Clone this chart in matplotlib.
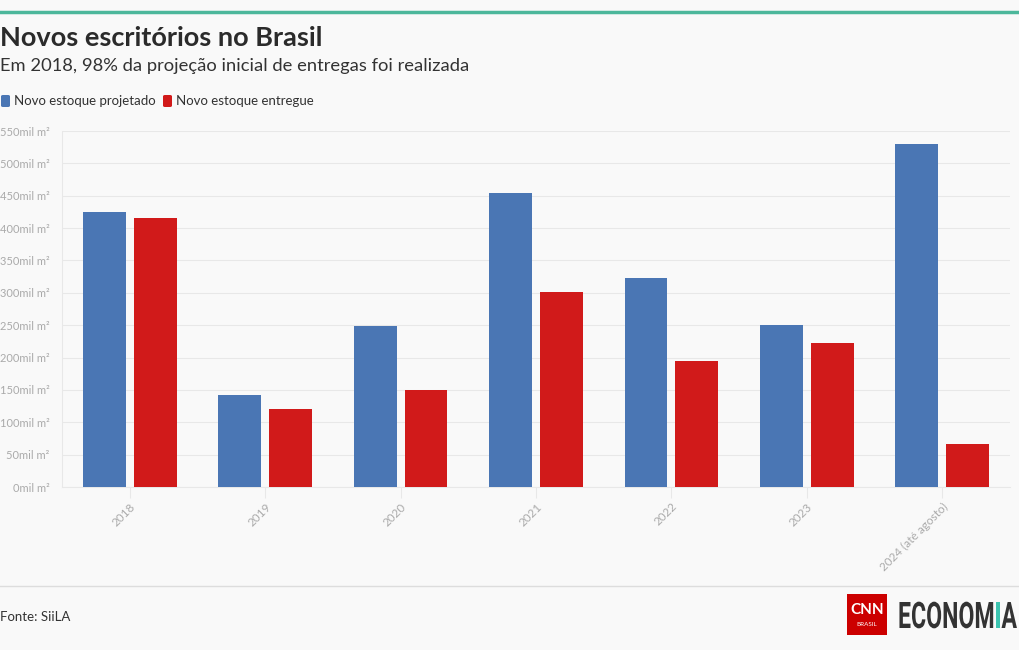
import numpy as np
import matplotlib
matplotlib.use('Agg')
from matplotlib import pyplot as plt
from matplotlib.patches import FancyBboxPatch, Rectangle, PathPatch
from matplotlib.lines import Line2D
from matplotlib.textpath import TextPath, text_to_path
from matplotlib.font_manager import FontProperties
from matplotlib.transforms import Affine2D

plt.rcParams['font.family'] = ['Lato', 'DejaVu Sans']

# Data (mil m²)
anos = ['2018', '2019', '2020', '2021', '2022', '2023', '2024 (até agosto)']
projetado = [425, 142, 249, 454, 323, 250, 530]
entregue = [416, 120, 150, 301, 195, 222, 66]
yticks = list(range(0, 551, 50))

BLUE = '#4a76b4'
RED = '#d11a1a'
BG = '#f9f9f9'
GRID = '#e8e8e8'
TICK = '#aaaaaa'

W, H = 1020, 650
fig = plt.figure(figsize=(10.2, 6.5), dpi=100, facecolor=BG)

# top teal rule
fig.add_artist(Line2D([0, 1], [1 - 12/H, 1 - 12/H], color='#4cb79b', lw=2.5))

# titles
fig.text(0.0, 1 - 38/H, 'Novos escritórios no Brasil', fontsize=19.5, fontweight='bold',
         color='#2b2b2b', va='center', ha='left')
fig.text(0.0, 1 - 66/H, 'Em 2018, 98% da projeção inicial de entregas foi realizada',
         fontsize=13.2, color='#333333', va='center', ha='left')

# legend
ly = 1 - 101/H
fig.add_artist(FancyBboxPatch((1/W, ly - 6/H), 9/W, 12/H,
                              boxstyle='round,pad=0,rounding_size=0.002',
                              fc=BLUE, ec='none', transform=fig.transFigure))
fig.text(14/W, ly, 'Novo estoque projetado', fontsize=9.5, color='#333333', va='center')
fig.add_artist(FancyBboxPatch((163/W, ly - 6/H), 9/W, 12/H,
                              boxstyle='round,pad=0,rounding_size=0.002',
                              fc=RED, ec='none', transform=fig.transFigure))
fig.text(176/W, ly, 'Novo estoque entregue', fontsize=9.5, color='#333333', va='center')

ax = fig.add_axes([62/W, 1 - 487/H, 948/W, 356/H])
ax.set_facecolor(BG)

x = np.arange(len(anos))
w = 0.317
off = 0.188
ax.bar(x - off, projetado, width=w, color=BLUE, zorder=3)
ax.bar(x + off, entregue, width=w, color=RED, zorder=3)

ax.set_xlim(-0.5, len(anos) - 0.5)
ax.set_ylim(0, 550)
ax.set_yticks(yticks)
ax.set_yticklabels([f'{v}mil m²' for v in yticks], fontsize=8, color=TICK)
ax.grid(axis='y', color=GRID, lw=0.8, zorder=0)
ax.tick_params(axis='y', length=0, pad=9)

ax.set_xticks(x)
ax.set_xticklabels(anos, rotation=45, ha='right', va='top', rotation_mode='anchor',
                   fontsize=8.5, color=TICK)
ax.tick_params(axis='x', length=8, color=GRID, pad=2)

for s in ['top', 'right']:
    ax.spines[s].set_visible(False)
ax.spines['left'].set_color(GRID)
ax.spines['bottom'].set_color(GRID)

# footer
fig.add_artist(Line2D([0, 1], [1 - 586/H, 1 - 586/H], color='#dddddd', lw=1))
fig.text(0.0, 1 - 617/H, 'Fonte: SiiLA', fontsize=9.5, color='#333333', va='center')

# logo: CNN box
fig.add_artist(Rectangle((847/W, 1 - 635/H), 40/W, 41/H, fc='#cc0000', ec='none',
                         transform=fig.transFigure))
fig.text(867/W, 1 - 610/H, 'CNN', fontsize=11, fontweight='bold', color='white',
         ha='center', va='center')
fig.text(867/W, 1 - 625/H, 'BRASIL', fontsize=4.5, color='white', ha='center', va='center')

# logo: condensed "ECONOMIA" drawn as squeezed text paths (pixel coords)
prop = FontProperties(family='Roboto', weight='bold', size=10)
parts = [('ECONOM', '#333333'), ('I', '#3cc4b0'), ('A', '#333333')]
total = text_to_path.get_text_width_height_descent('ECONOMIA', prop, ismath=False)[0]
cap = TextPath((0, 0), 'E', prop=prop).get_extents().height
sx = 119 / total
sy = 26 / cap
x0, y0 = 898, H - 628
adv = 0
for txt, col in parts:
    p = TextPath((adv, 0), txt, prop=prop)
    tr = Affine2D().scale(sx, sy).translate(x0, y0)
    fig.add_artist(PathPatch(tr.transform_path(p), fc=col, ec='none', transform=None))
    adv += text_to_path.get_text_width_height_descent(txt, prop, ismath=False)[0]

fig.savefig('out.png', dpi=100, facecolor=BG)
